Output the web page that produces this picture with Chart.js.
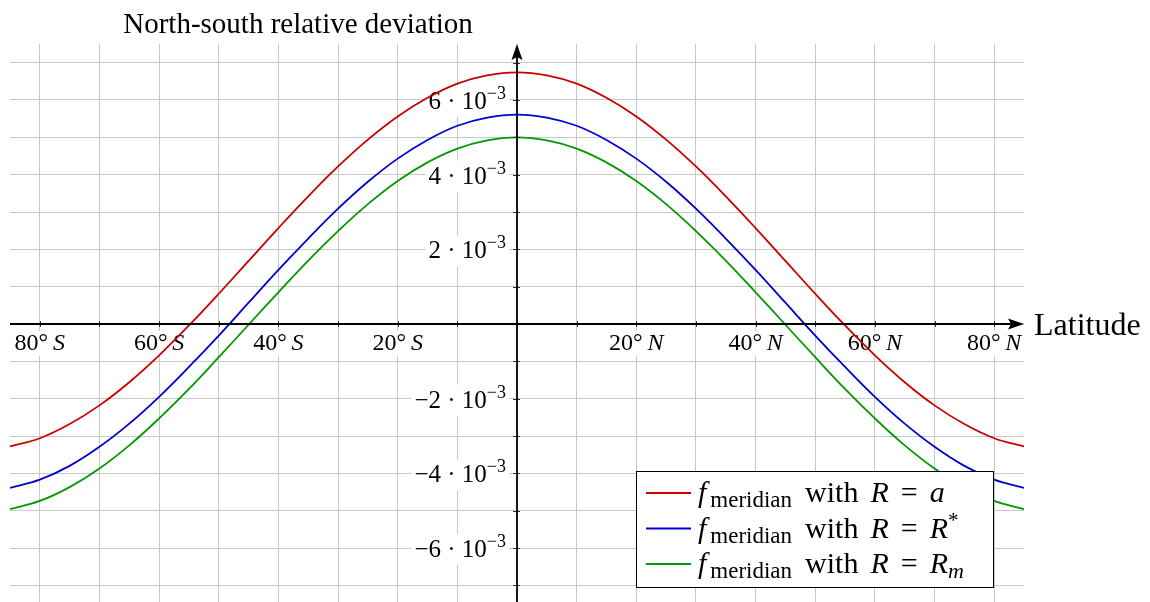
<!DOCTYPE html>
<html>
<head>
<meta charset="utf-8">
<script src="https://cdn.jsdelivr.net/npm/chart.js"></script>
<style>
  html, body { margin: 0; padding: 0; overflow: hidden; background: #fff; }
</style>
</head>
<body>
<canvas id="devChart" width="1150" height="604"></canvas>

<script>
// latitude in degrees, deviations in units of 1e-3
const latitudes = [-85, -80, -75, -70, -65, -60, -55, -50, -45, -40, -35, -30, -25, -20, -15, -10, -5,
                   0, 5, 10, 15, 20, 25, 30, 35, 40, 45, 50, 55, 60, 65, 70, 75, 80, 85];
const devRadiusA = [-3.28, -3.06, -2.68, -2.18, -1.56, -0.84, -0.04, 0.81, 1.69, 2.57, 3.42, 4.22, 4.94, 5.56, 6.06, 6.44, 6.66,
                    6.74, 6.66, 6.44, 6.06, 5.56, 4.94, 4.22, 3.42, 2.57, 1.69, 0.81, -0.04, -0.84, -1.56, -2.18, -2.68, -3.06, -3.28];
const devRadiusStar = [-4.39, -4.17, -3.80, -3.29, -2.67, -1.95, -1.15, -0.31, 0.57, 1.45, 2.29, 3.09, 3.81, 4.43, 4.93, 5.31, 5.53,
                       5.61, 5.53, 5.31, 4.93, 4.43, 3.81, 3.09, 2.29, 1.45, 0.57, -0.31, -1.15, -1.95, -2.67, -3.29, -3.80, -4.17, -4.39];
const devRadiusMean = [-4.96, -4.74, -4.37, -3.87, -3.25, -2.53, -1.74, -0.89, -0.02, 0.85, 1.70, 2.49, 3.21, 3.83, 4.33, 4.70, 4.92,
                       5.00, 4.92, 4.70, 4.33, 3.83, 3.21, 2.49, 1.70, 0.85, -0.02, -0.89, -1.74, -2.53, -3.25, -3.87, -4.37, -4.74, -4.96];

const xGridTicks = [-80, -70, -60, -50, -40, -30, -20, -10, 0, 10, 20, 30, 40, 50, 60, 70, 80];
const xLabelTicks = [-80, -60, -40, -20, 20, 40, 60, 80];
const yGridTicks = [-7, -6, -5, -4, -3, -2, -1, 0, 1, 2, 3, 4, 5, 6, 7];
const yLabelTicks = [-6, -4, -2, 2, 4, 6];

const seriesColors = ['#c80000', '#0000d2', '#009a00'];

const SERIF = '"Liberation Serif", "DejaVu Serif", serif';
const roman = px => px + 'px ' + SERIF;
const italic = px => 'italic ' + px + 'px ' + SERIF;

// draw a row of text pieces with different fonts / vertical offsets
// (pad = extra space before a piece)
function drawRuns(ctx, runs, x, y, align, bg) {
  let total = 0;
  runs.forEach(r => { ctx.font = r.font; r.w = ctx.measureText(r.text).width; total += r.w + (r.pad || 0); });
  let cx = align === 'right' ? x - total : align === 'center' ? x - total / 2 : x;
  if (bg) {
    ctx.fillStyle = '#fff';
    ctx.fillRect(cx - 3, y - bg.up, total + 6, bg.up + bg.down);
  }
  ctx.fillStyle = '#000';
  ctx.textBaseline = 'alphabetic';
  ctx.textAlign = 'left';
  runs.forEach(r => {
    cx += r.pad || 0;
    ctx.font = r.font;
    ctx.fillText(r.text, cx, y + (r.dy || 0));
    cx += r.w;
  });
}

function fmtSigned(v) {
  return v < 0 ? '\u2212' + Math.abs(v) : String(v);
}

const axisDecor = {
  id: 'axisDecor',
  beforeDatasetsDraw(chart) {
    const { ctx, scales: { x, y } } = chart;
    const x0 = x.getPixelForValue(0);
    const y0 = y.getPixelForValue(0);
    ctx.save();
    // y tick labels  n·10^-3
    yLabelTicks.forEach(v => {
      const py = y.getPixelForValue(v);
      drawRuns(ctx, [
        { text: fmtSigned(v), font: roman(25) },
        { text: ' \u00b7 ', font: roman(25) },
        { text: '10', font: roman(25) },
        { text: '\u22123', font: roman(18), dy: -10 }
      ], x0 - 11, py + 9, 'right', { up: 23, down: 8 });
    });
    // x tick labels  20° S / 20° N
    xLabelTicks.forEach(v => {
      const px = x.getPixelForValue(v);
      drawRuns(ctx, [
        { text: Math.abs(v) + '\u00b0\u2009', font: roman(24) },
        { text: v < 0 ? 'S' : 'N', font: italic(24) }
      ], px, y0 + 26, 'center', { up: 19, down: 6 });
    });
    ctx.restore();
  },
  afterDatasetsDraw(chart) {
    const { ctx, chartArea: a, scales: { x, y } } = chart;
    const x0 = x.getPixelForValue(0);
    const y0 = y.getPixelForValue(0);
    ctx.save();
    // small tick marks
    ctx.strokeStyle = '#333';
    ctx.lineWidth = 1;
    ctx.beginPath();
    xGridTicks.forEach(v => {
      if (v === 0) return;
      const px = Math.round(x.getPixelForValue(v)) + 0.5;
      ctx.moveTo(px, y0 - 3); ctx.lineTo(px, y0 + 3);
    });
    yGridTicks.forEach(v => {
      if (v === 0) return;
      const py = Math.round(y.getPixelForValue(v)) + 0.5;
      ctx.moveTo(x0 - 4, py); ctx.lineTo(x0 + 3, py);
    });
    ctx.stroke();

    // axis lines through the origin, with arrow heads
    ctx.strokeStyle = '#000';
    ctx.fillStyle = '#000';
    ctx.lineWidth = 1.8;
    ctx.beginPath();
    ctx.moveTo(a.left, y0); ctx.lineTo(a.right - 10, y0);
    ctx.moveTo(x0, a.bottom + 2); ctx.lineTo(x0, a.top + 10);
    ctx.stroke();
    ctx.beginPath();
    ctx.moveTo(a.right, y0); ctx.lineTo(a.right - 16, y0 - 5.5); ctx.lineTo(a.right - 13, y0); ctx.lineTo(a.right - 16, y0 + 5.5);
    ctx.closePath(); ctx.fill();
    ctx.beginPath();
    ctx.moveTo(x0, a.top); ctx.lineTo(x0 - 5.5, a.top + 16); ctx.lineTo(x0, a.top + 13); ctx.lineTo(x0 + 5.5, a.top + 16);
    ctx.closePath(); ctx.fill();

    // axis titles
    drawRuns(ctx, [{ text: 'Latitude', font: roman(32) }], a.right + 10, y0 + 11, 'left');
    drawRuns(ctx, [{ text: 'North-south relative deviation', font: roman(29) }], 298, 33, 'center');

    // legend box
    const bx = 636.5, by = 471.5, bw = 357, bh = 116;
    ctx.fillStyle = '#fff';
    ctx.fillRect(bx, by, bw, bh);
    ctx.strokeStyle = '#000';
    ctx.lineWidth = 1;
    ctx.strokeRect(bx, by, bw, bh);
    const rows = [
      [{ text: 'a', font: italic(30), pad: 12 }],
      [{ text: 'R', font: italic(30), pad: 12 }, { text: '*', font: roman(21), dy: -11 }],
      [{ text: 'R', font: italic(30), pad: 12 }, { text: 'm', font: italic(22), dy: 5 }]
    ];
    rows.forEach((tail, i) => {
      const ly = 493 + i * 35.5;
      ctx.strokeStyle = seriesColors[i];
      ctx.lineWidth = 1.8;
      ctx.beginPath();
      ctx.moveTo(646, ly); ctx.lineTo(691, ly);
      ctx.stroke();
      drawRuns(ctx, [
        { text: 'f', font: italic(30) },
        { text: 'meridian', font: roman(23), dy: 5, pad: 4 },
        { text: 'with', font: roman(30), pad: 13 },
        { text: 'R', font: italic(30), pad: 12 },
        { text: '=', font: roman(30), pad: 12 }
      ].concat(tail), 698, ly + 9, 'left');
    });
    ctx.restore();
  }
};

const makeSeries = (label, values, color) => ({
  label,
  data: latitudes.map((lat, i) => ({ x: lat, y: values[i] })),
  borderColor: color,
  borderWidth: 1.8,
  pointRadius: 0,
  fill: false,
  tension: 0.4
});

new Chart(document.getElementById('devChart'), {
  type: 'line',
  data: {
    datasets: [
      makeSeries('R = a', devRadiusA, seriesColors[0]),
      makeSeries('R = R*', devRadiusStar, seriesColors[1]),
      makeSeries('R = Rm', devRadiusMean, seriesColors[2])
    ]
  },
  options: {
    responsive: false,
    animation: false,
    layout: { padding: { left: 10, right: 126, top: 44, bottom: 0 } },
    plugins: { legend: { display: false }, tooltip: { enabled: false } },
    scales: {
      x: {
        type: 'linear',
        min: -85,
        max: 85,
        afterBuildTicks: s => { s.ticks = xGridTicks.map(v => ({ value: v })); },
        afterFit: s => { s.height = 0; },
        ticks: { display: false },
        grid: { color: '#c8c8c8', lineWidth: 1, drawTicks: false },
        border: { display: false }
      },
      y: {
        type: 'linear',
        min: -7.5,
        max: 7.5,
        afterBuildTicks: s => { s.ticks = yGridTicks.map(v => ({ value: v })); },
        afterFit: s => { s.width = 0; },
        ticks: { display: false },
        grid: { color: '#c8c8c8', lineWidth: 1, drawTicks: false },
        border: { display: false }
      }
    }
  },
  plugins: [axisDecor]
});
</script>
</body>
</html>
